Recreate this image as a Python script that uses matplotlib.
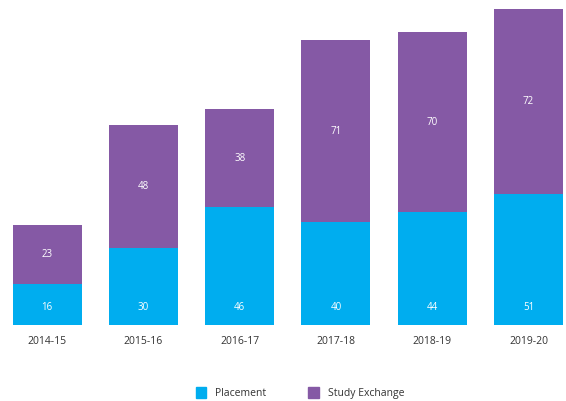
import numpy as np
import matplotlib.pyplot as plt
from matplotlib.patches import Patch

plt.rcParams['font.family'] = ['Open Sans', 'DejaVu Sans']

# data
years = ['2014-15', '2015-16', '2016-17', '2017-18', '2018-19', '2019-20']
placement = [16, 30, 46, 40, 44, 51]
exchange = [23, 48, 38, 71, 70, 72]

c_place = '#00ADEF'
c_exch = '#8559A5'

fig = plt.figure(figsize=(5.66, 4.01), dpi=100)
ax = fig.add_axes([0, 0.1895, 1, 0.788])

x = np.arange(len(years))
w = 0.716
ax.bar(x, placement, width=w, color=c_place)
ax.bar(x, exchange, width=w, bottom=placement, color=c_exch)

# value labels: placement ones sit near the base, exchange ones mid-segment
for i in range(len(years)):
    ax.text(x[i], 7, str(placement[i]), ha='center', va='center',
            color='white', fontsize=7)
    ax.text(x[i], placement[i] + exchange[i] / 2, str(exchange[i]), ha='center',
            va='center', color='white', fontsize=7)

ax.set_xlim(-0.49, 5.39)
ax.set_ylim(0, 123)
ax.set_xticks(x)
ax.set_xticklabels(years, fontsize=7.5, color='#333333')
ax.tick_params(axis='x', length=0, pad=8)
ax.set_yticks([])
for s in ax.spines.values():
    s.set_visible(False)

handles = [Patch(color=c_place, label='Placement'),
           Patch(color=c_exch, label='Study Exchange')]
fig.legend(handles=handles, loc='center', bbox_to_anchor=(0.53, 0.02), ncol=2,
           frameon=False, fontsize=7.5, handlelength=1.0, handleheight=1.2,
           columnspacing=4, handletextpad=0.9, labelcolor='#333333')

fig.savefig('out.png', dpi=100)
